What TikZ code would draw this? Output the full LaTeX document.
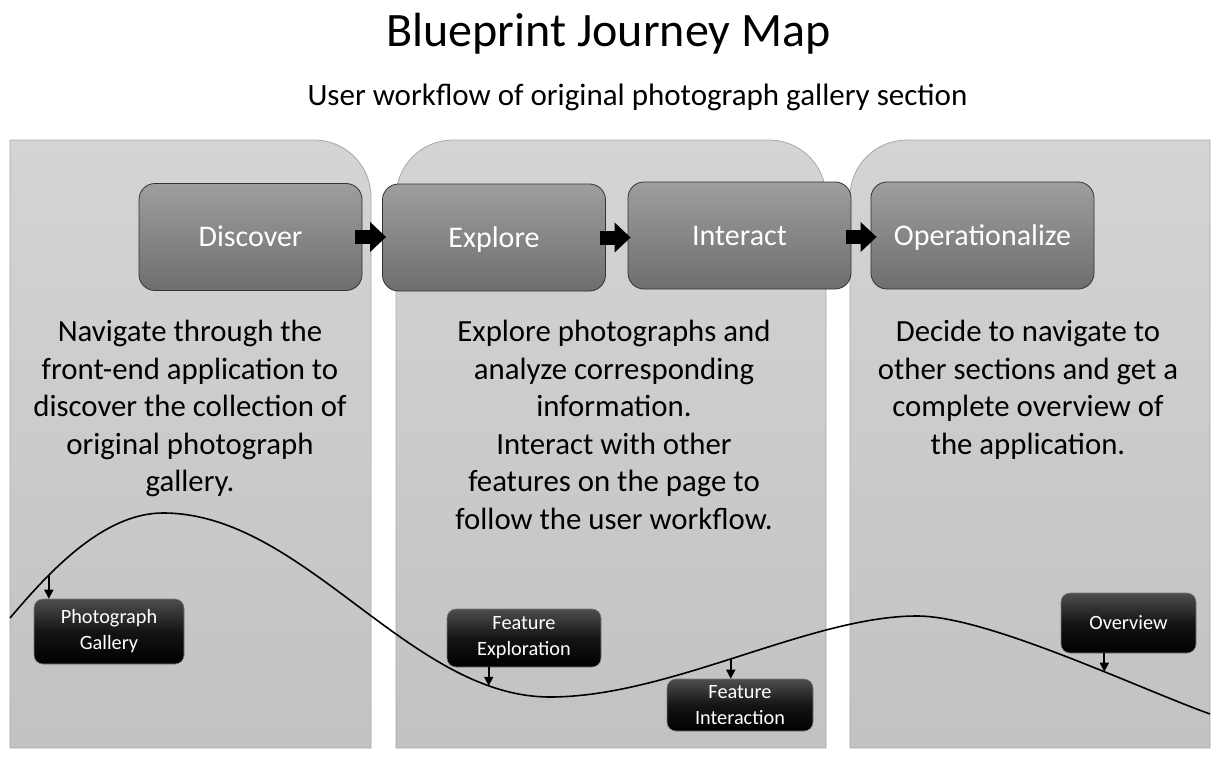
\documentclass[tikz,border=0pt]{standalone}
\usepackage{fontspec}
\setmainfont{Carlito}
\usetikzlibrary{arrows.meta}
\definecolor{panelTop}{HTML}{D4D4D4}
\definecolor{panelBot}{HTML}{C2C2C2}
\definecolor{panelEdge}{HTML}{A8A8A8}
\definecolor{stageTop}{HTML}{9E9E9E}
\definecolor{stageBot}{HTML}{6E6E6E}
\definecolor{stageEdge}{HTML}{333333}
\definecolor{tagTop}{HTML}{4E4E4E}
\definecolor{tagEdge}{HTML}{7A7A7A}
\begin{document}
\begin{tikzpicture}[x=1pt,y=-1pt,
  panel/.style={top color=panelTop,bottom color=panelBot,draw=panelEdge,line width=0.8pt},
  stage/.style={rounded corners=16pt,draw=stageEdge,line width=0.8pt,top color=stageTop,bottom color=stageBot,
    minimum width=223pt,minimum height=107pt,inner sep=0pt,text=white,text height=19pt,text depth=0pt,
    font=\fontsize{30}{36}\selectfont},
  tag/.style={rounded corners=9pt,draw=tagEdge,line width=0.6pt,top color=tagTop,bottom color=black,middle color=black!92,
    inner sep=0pt,text=white,align=center,font=\fontsize{20.3}{26}\selectfont},
  body/.style={align=center,inner sep=0pt,anchor=north,font=\fontsize{30.8}{37.5}\selectfont},
  blockarr/.style={line width=14pt,-{Triangle[width=29pt,length=16pt]},black},
  smallarr/.style={line width=1.8pt,-{Triangle[width=9pt,length=9pt]},black},
  journey/.style={line width=1.6pt,black}
]
\useasboundingbox (0,0) rectangle (1224,760);

% title
\node[anchor=base,font=\fontsize{48}{52}\selectfont] (title) at (608.5,47) {Blueprint Journey Map};
\node[anchor=base,font=\fontsize{31}{36}\selectfont] (subtitle) at (637.5,105) {User workflow of original photograph gallery section};

% panels
\path[panel] (10,748) -- (10,140) -- (314,140) .. controls (345.5,140) and (371,165.5) .. (371,197) -- (371,748) -- cycle;
\path[panel] (396,748) -- (396,197) .. controls (396,165.5) and (421.5,140) .. (453,140) -- (769,140)
  .. controls (800.5,140) and (826,165.5) .. (826,197) -- (826,748) -- cycle;
\path[panel] (850,748) -- (850,197) .. controls (850,165.5) and (875.5,140) .. (907,140) -- (1210,140) -- (1210,748) -- cycle;

% stage boxes
\node[stage] (discover) at (250.5,237) {Discover};
\node[stage] (explore) at (494,237.5) {Explore};
\node[stage] (interact) at (739.5,235.5) {Interact};
\node[stage] (oper) at (982.5,235.5) {Operationalize};

\draw[blockarr] ([xshift=-7pt]discover.east) -- ([xshift=4pt]explore.west |- discover.east);
\draw[blockarr] ([xshift=-6pt]explore.east) -- ([xshift=3pt]interact.west |- explore.east);
\draw[blockarr] ([xshift=-5pt,yshift=-1.5pt]interact.east) -- ([xshift=6pt,yshift=-1.5pt]oper.west |- interact.east);

% descriptions
\node[body] (d1) at (190,320) {Navigate through the\\front-end application to\\discover the collection of\\original photograph\\gallery.};
\node[body] (d2) at (614,320) {Explore photographs and\\analyze corresponding\\information.\\Interact with other\\features on the page to\\follow the user workflow.};
\node[body] (d3) at (1028,320) {Decide to navigate to\\other sections and get a\\complete overview of\\the application.};

% journey curve
\draw[journey] (10,618) .. controls (48.8,572.2) and (103,513) .. coordinate[pos=0.3] (cPG) (163,513)
  .. controls (304,513) and (409,697) .. coordinate[pos=0.85] (cFE) (550,697)
  .. controls (670,697) and (810,616) .. coordinate[pos=0.48] (cFI) (917,616)
  .. controls (987,616) and (1134.8,686.8) .. coordinate[pos=0.63] (cOV) (1210,714);

% touchpoints
\node[tag,minimum width=150pt,minimum height=65pt] (pg) at (109,631.5) {Photograph\\Gallery};
\node[tag,minimum width=154pt,minimum height=58pt] (fe) at (524,638) {Feature\\Exploration};
\node[tag,minimum width=146pt,minimum height=52pt] (fi) at (740,705) {Feature\\Interaction};
\node[tag,minimum width=135pt,minimum height=60pt] (ov) at (1128.5,623) {Overview};

\draw[smallarr] (cPG) -- (cPG |- pg.north);
\draw[smallarr] (fe.south -| cFE) -- (cFE);
\draw[smallarr] (cFI) -- (cFI |- fi.north);
\draw[smallarr] (ov.south -| cOV) -- (cOV);
\end{tikzpicture}
\end{document}
